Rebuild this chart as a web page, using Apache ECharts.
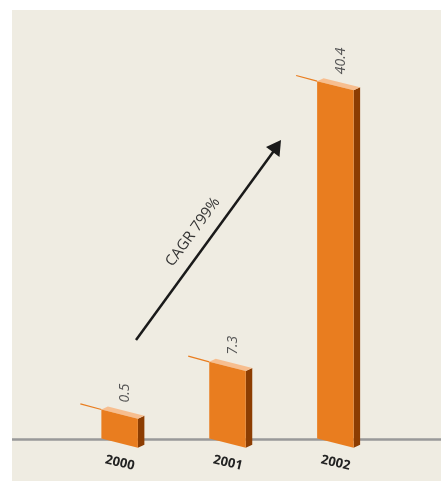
<!DOCTYPE html>
<html>
<head>
<meta charset="utf-8">
<script src="https://cdn.jsdelivr.net/npm/echarts@6/dist/echarts.min.js"></script>
<style>
html,body{margin:0;padding:0;background:#ffffff;}
#main{width:441px;height:481px;}
</style>
</head>
<body>
<div id="main"></div>
<script>
var categories = ['2000', '2001', '2002'];
var values = [0.5, 7.3, 40.4];
var valueLabels = ['0.5', '7.3', '40.4'];
var cagrText = 'CAGR 799%';

var yMin = -1.8, yMax = 48.2;
var axisData = [''].concat(categories).concat(['']);
var seriesData = categories.map(function (c, i) { return [c, values[i], i]; });

var chart = echarts.init(document.getElementById('main'), null, {renderer: 'canvas'});

var FRONT = '#E97D1F', SIDE = '#8C3D02', TOP = '#F7BE8F';

function renderItem(params, api) {
  var v = api.value(1);
  var i = api.value(2);
  var base = api.coord([api.value(0), yMin]);
  var top = api.coord([api.value(0), v]);
  var cx = top[0];
  var xL = cx - 18.5, xR = cx + 18;
  var w = xR - xL;
  var s = 0.25;
  var yB = base[1] - 0.5;
  var yT = Math.min(top[1], yB - 29);
  var dx = 6.5, dy = -3;
  var yTR = yT + s * w, yBR = yB + s * w;
  return {
    type: 'group',
    children: [
      {type: 'line', shape: {x1: xL - 21, y1: yT - 0.27 * 21, x2: xL, y2: yT},
        style: {stroke: FRONT, lineWidth: 1.2}},
      {type: 'polygon', shape: {points: [[xR, yTR], [xR + dx, yTR + dy], [xR + dx, yBR + dy], [xR, yBR]]},
        style: {fill: SIDE}},
      {type: 'polygon', shape: {points: [[xL, yT], [xL + dx, yT + dy], [xR + dx, yTR + dy], [xR, yTR]]},
        style: {fill: TOP}},
      {type: 'polygon', shape: {points: [[xL, yT], [xR, yTR], [xR, yBR], [xL, yB]]},
        style: {fill: FRONT}},
      {type: 'text', x: xL + 24, y: yT - 7, rotation: Math.PI / 2,
        style: {text: valueLabels[i], fill: '#555555', fontSize: 14, fontStyle: 'italic',
          fontFamily: 'Open Sans, sans-serif', align: 'left', verticalAlign: 'middle'}}
    ]
  };
}

var ang = Math.atan2(340 - 141, 281 - 136);

chart.setOption({
  animation: false,
  backgroundColor: '#ffffff',
  grid: {left: 12, width: 431.5, top: 15, bottom: 42, containLabel: false, outerBoundsMode: 'none'},
  xAxis: {
    type: 'category',
    data: axisData,
    boundaryGap: false,
    axisLine: {show: true, onZero: false, lineStyle: {color: '#999999', width: 2.5, cap: 'butt'}},
    axisTick: {show: false},
    splitLine: {show: false},
    axisLabel: {
      interval: 0, rotate: -13, margin: 24, align: 'center', verticalAlign: 'middle',
      color: '#222222', fontSize: 13, fontWeight: 'bold', fontFamily: 'Open Sans, sans-serif'
    }
  },
  yAxis: {
    type: 'value', min: yMin, max: yMax, show: false, splitLine: {show: false}
  },
  graphic: [
    {type: 'rect', left: 12, top: 10, z: -10, silent: true,
      shape: {width: 429, height: 471}, style: {fill: '#EFECE2'}},
    {type: 'line', z: 10, shape: {x1: 136, y1: 340, x2: 276, y2: 148},
      style: {stroke: '#1a1a1a', lineWidth: 2.5}},
    {type: 'polygon', z: 10, shape: {points: [[281, 140], [279.5, 157], [266, 147]]},
      style: {fill: '#1a1a1a'}},
    {type: 'text', z: 10, x: 193, y: 232, rotation: ang,
      style: {text: cagrText, fill: '#333333', fontSize: 15, fontFamily: 'Open Sans, sans-serif',
        align: 'center', verticalAlign: 'middle'}}
  ],
  series: [{
    type: 'custom',
    renderItem: renderItem,
    encode: {x: 0, y: 1},
    data: seriesData,
    z: 5
  }]
});
</script>
</body>
</html>
